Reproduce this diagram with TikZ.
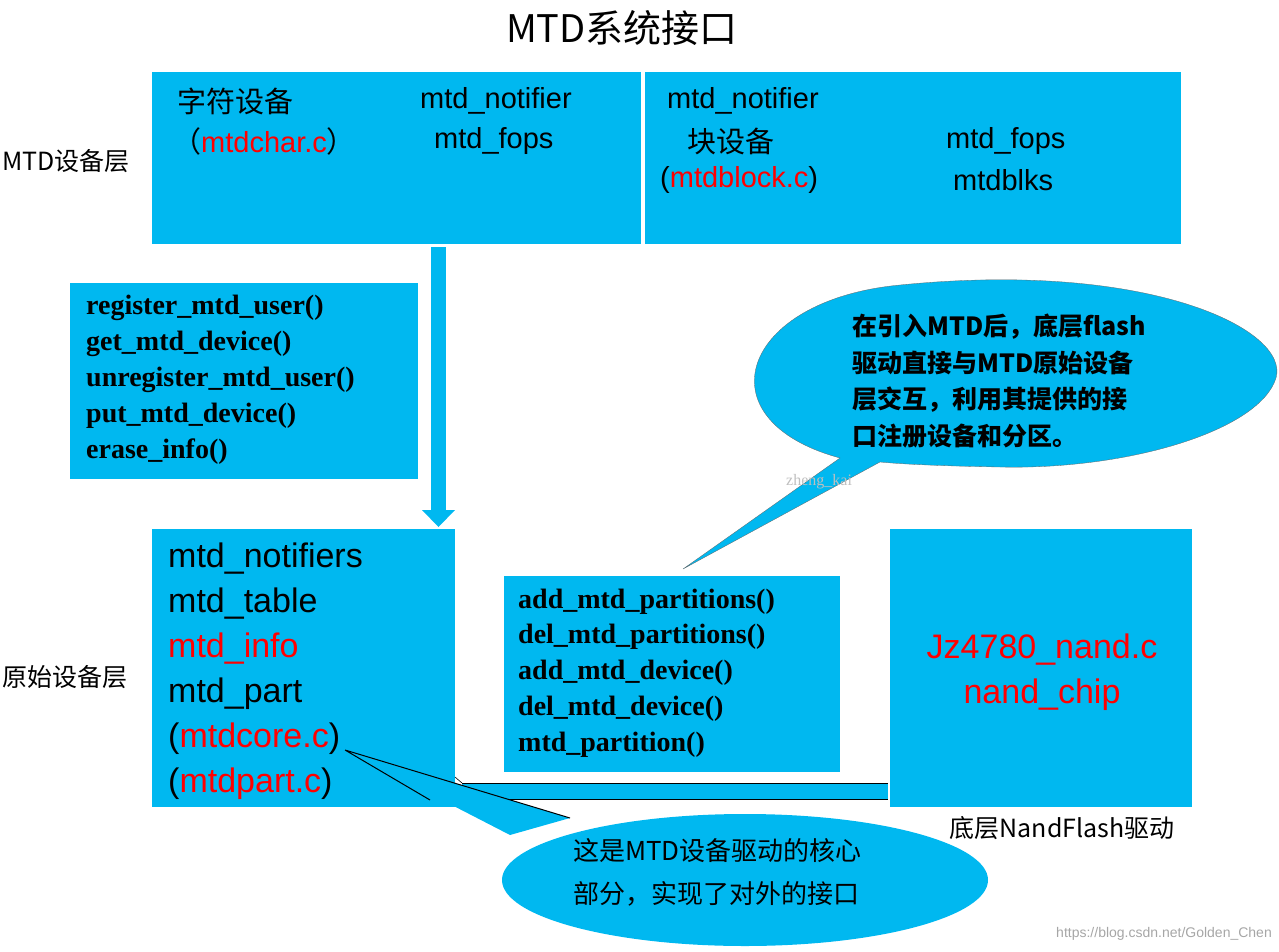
\documentclass[tikz,border=0pt]{standalone}
\usepackage{fontspec}
\setmainfont{Liberation Sans}
\newfontfamily\cjk{Noto Sans CJK SC}
\newfontfamily\serifb{Liberation Serif}
\usetikzlibrary{shapes.geometric}
\definecolor{mtdblue}{RGB}{0,184,240}
\definecolor{rd}{RGB}{255,0,0}
\tikzset{
 box/.style={fill=mtdblue,draw=none},
 t/.style={anchor=west,inner sep=0pt,font=\fontsize{29}{29}\selectfont},
 tb/.style={anchor=west,inner sep=0pt,font=\fontsize{34}{34}\selectfont},
 fn/.style={anchor=west,inner sep=0pt,font=\serifb\bfseries\fontsize{28}{28}\selectfont},
 lab/.style={anchor=west,inner sep=0pt,font=\cjk\fontsize{25}{25}\selectfont},
}
\begin{document}
\begin{tikzpicture}[x=1pt,y=-1pt]
\useasboundingbox (0,0) rectangle (1279,952);
% title
\node[inner sep=0pt,font=\cjk\fontsize{38}{38}\selectfont] (title) at (622,28) {MTD系统接口};
% top boxes
\fill[box] (152,72) rectangle (641,244);
\fill[box] (645,72) rectangle (1181,244);
\node[t] (a1) at (177,101) {\cjk 字符设备};
\node[t] (a2) at (172,141) {\cjk （\textcolor{rd}{\rmfamily mtdchar.c}）};
\node[t] (a3) at (420,101) {mtd\_notifier};
\node[t] (a4) at (434,141) {mtd\_fops};
\node[t] (b1) at (667,101) {mtd\_notifier};
\node[t] (b2) at (687,141) {\cjk 块设备};
\node[t] (b3) at (660,180) {(\textcolor{rd}{mtdblock.c})};
\node[t] (b4) at (946,141) {mtd\_fops};
\node[t] (b5) at (953,180) {mtdblks};
\node[lab] (l1) at (2,161) {MTD设备层};
% down arrow
\fill[mtdblue] (431,247) rectangle (446,511);
\fill[mtdblue] (422,510) -- (455,510) -- (438.5,527) -- cycle;
% functions box
\fill[box] (70,283) rectangle (418,479);
\node[fn] (f1) at (86,308) {register\_mtd\_user()};
\node[fn] (f2) at (86,344) {get\_mtd\_device()};
\node[fn] (f3) at (86,380) {unregister\_mtd\_user()};
\node[fn] (f4) at (86,416) {put\_mtd\_device()};
\node[fn] (f5) at (86,452) {erase\_info()};
% original device layer
\fill[box] (152,529) rectangle (455,807);
\node[tb] (m1) at (168,559) {mtd\_notifiers};
\node[tb] (m2) at (168,604) {mtd\_table};
\node[tb] (m3) at (168,649) {\textcolor{rd}{mtd\_info}};
\node[tb] (m4) at (168,694) {mtd\_part};
\node[tb] (m5) at (168,739) {(\textcolor{rd}{mtdcore.c})};
\node[tb] (m6) at (168,784) {(\textcolor{rd}{mtdpart.c})};
\node[lab] (l2) at (2,677) {原始设备层};
% middle box
\fill[box] (504,576) rectangle (840,772);
\node[fn] (p1) at (518,602) {add\_mtd\_partitions()};
\node[fn] (p2) at (518,637) {del\_mtd\_partitions()};
\node[fn] (p3) at (518,673) {add\_mtd\_device()};
\node[fn] (p4) at (518,709) {del\_mtd\_device()};
\node[fn] (p5) at (518,745) {mtd\_partition()};
% right box
\fill[box] (890,529) rectangle (1192,807);
\node[inner sep=0pt,font=\fontsize{34}{34}\selectfont,text=rd] (r1) at (1042,650) {Jz4780\_nand.c};
\node[inner sep=0pt,font=\fontsize{34}{34}\selectfont,text=rd] (r2) at (1042,695) {nand\_chip};
\node[inner sep=0pt,font=\cjk\fontsize{25}{25}\selectfont] (l3) at (1062,828) {底层NandFlash驱动};
% horizontal arrow
\fill[mtdblue] (462,783) rectangle (888,799);
\draw[black,line width=0.8pt] (462,783) -- (888,783) (462,799) -- (888,799);
\draw[black,line width=0.6pt] (455,777) -- (462,783);
% bubble top
\fill[mtdblue,draw=black!60,line width=0.3pt] (683,569) -- (840,458) .. controls (700,420) and (740,300) .. (900,285)
  .. controls (1150,260) and (1290,330) .. (1276,378) .. controls (1260,430) and (1130,470) .. (1000,467)
  .. controls (940,466) and (900,464) .. (880,462) -- cycle;
\node[anchor=west,inner sep=0pt,align=left,font=\cjk\bfseries\fontsize{25}{36.5}\selectfont] (n1) at (852,381) {在引入MTD后，底层flash\\驱动直接与MTD原始设备\\层交互，利用其提供的接\\口注册设备和分区。};
% bubble bottom
\fill[mtdblue] (745,880) ellipse [x radius=243, y radius=66];
\fill[mtdblue] (345,750) -- (570,818) -- (510,835) -- cycle;
\draw[black,line width=1pt] (345,750) -- (570,818) (345,750) -- (430,800);
\node[anchor=west,inner sep=0pt,align=left,font=\cjk\fontsize{26}{43}\selectfont] (n2) at (573,872) {这是MTD设备驱动的核心\\部分，实现了对外的接口};
% watermarks
\node[anchor=east,inner sep=0pt,text=black!35,font=\fontsize{14}{14}\selectfont] (w1) at (1272,934) {https://blog.csdn.net/Golden\_Chen};
\node[anchor=west,inner sep=0pt,text=black!25,font=\serifb\fontsize{16}{16}\selectfont] (w2) at (786,482) {zheng\_kai};
\end{tikzpicture}
\end{document}
